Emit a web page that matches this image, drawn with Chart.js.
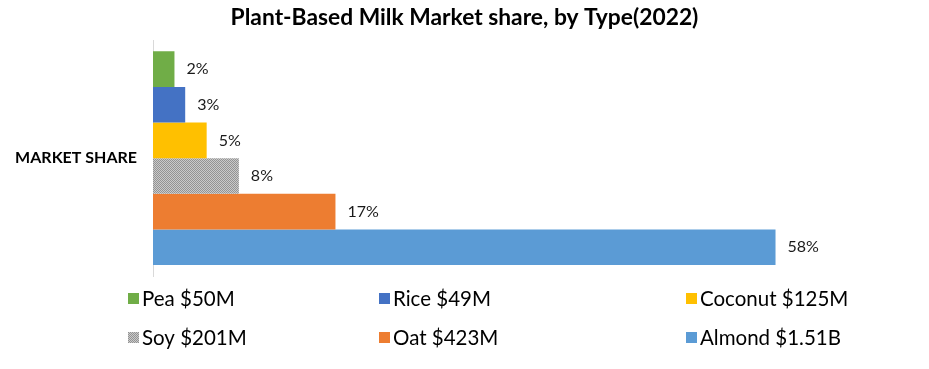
<!DOCTYPE html>
<html>
<head>
<meta charset="utf-8">
<script src="https://cdn.jsdelivr.net/npm/chart.js@4.4.1/dist/chart.umd.min.js"></script>
<style>
  html, body { margin: 0; padding: 0; background: #fff; }
  #wrap { width: 929px; height: 369px; position: relative; }
</style>
</head>
<body>
<div id="wrap"><canvas id="market-share-chart" width="929" height="369"></canvas></div>
<script>
// Datos
const titleText = "Plant-Based Milk Market share, by Type(2022)";
const categories = ["MARKET SHARE"];
const milkTypes = ["Pea $50M", "Rice $49M", "Coconut $125M", "Soy $201M", "Oat $423M", "Almond $1.51B"];
const shareValues = [2, 3, 5, 8, 17, 58];
const shareLabels = ["2%", "3%", "5%", "8%", "17%", "58%"];
const seriesColors = ["#70ad47", "#4472c4", "#ffc000", "#a5a5a5", "#ed7d31", "#5b9bd5"];

const FONT = "Lato, 'Open Sans', sans-serif";
const canvas = document.getElementById("market-share-chart");
const ctx = canvas.getContext("2d");

/**
 * Trama punteada gris para la serie Soy
 */
const crearTrama = () => {
  const c = document.createElement("canvas");
  c.width = 2;
  c.height = 2;
  const g = c.getContext("2d");
  g.fillStyle = "#cacaca";
  g.fillRect(0, 0, 2, 2);
  g.fillStyle = "#939393";
  g.fillRect(0, 0, 1, 1);
  g.fillRect(1, 1, 1, 1);
  return ctx.createPattern(c, "repeat");
};

const fills = seriesColors.map((c, i) => (milkTypes[i].startsWith("Soy") ? crearTrama() : c));

// Etiquetas de porcentaje al final de cada barra
const valueLabels = {
  id: "valueLabels",
  afterDatasetsDraw(chart) {
    const { ctx } = chart;
    ctx.save();
    ctx.font = `16px ${FONT}`;
    ctx.fillStyle = "#1a1a1a";
    ctx.textBaseline = "middle";
    chart.data.datasets.forEach((ds, i) => {
      const el = chart.getDatasetMeta(i).data[0];
      ctx.fillText(shareLabels[i], el.x + 12, el.y);
    });
    ctx.restore();
  },
};

// Leyenda en tres columnas debajo del gráfico
const gridLegend = {
  id: "gridLegend",
  afterDraw(chart) {
    const { ctx } = chart;
    const cols = [128, 379, 686];
    const rows = [298, 337];
    ctx.save();
    ctx.font = `20.5px ${FONT}`;
    ctx.textBaseline = "middle";
    chart.data.datasets.forEach((ds, i) => {
      const x = cols[i % 3];
      const y = rows[Math.floor(i / 3)];
      ctx.fillStyle = ds.backgroundColor;
      ctx.fillRect(x, y - 5, 11, 11);
      ctx.fillStyle = "#000";
      ctx.fillText(ds.label, x + 14, y + 1);
    });
    ctx.restore();
  },
};

new Chart(ctx, {
  type: "bar",
  data: {
    labels: categories,
    datasets: milkTypes.map((name, i) => ({
      label: name,
      data: [shareValues[i]],
      backgroundColor: fills[i],
      borderWidth: 0,
      barPercentage: 1,
      categoryPercentage: 0.907,
    })),
  },
  options: {
    indexAxis: "y",
    responsive: false,
    devicePixelRatio: 1,
    animation: false,
    layout: { padding: { left: 0, right: 0, top: 0, bottom: 93 } },
    plugins: {
      legend: { display: false },
      tooltip: { enabled: false },
      title: {
        display: true,
        text: titleText,
        color: "#000",
        font: { family: FONT, size: 22.8, weight: "bold" },
        padding: { top: 4, bottom: 9 },
      },
    },
    scales: {
      x: { display: false, min: 0, max: 72.3 },
      y: {
        grid: { display: false, drawTicks: false },
        border: { display: true, color: "#d9d9d9", width: 1 },
        ticks: {
          color: "#000",
          padding: 16,
          font: { family: FONT, size: 16, weight: "bold" },
        },
        afterFit: (scale) => {
          scale.width = 153;
        },
      },
    },
  },
  plugins: [valueLabels, gridLegend],
});
</script>
</body>
</html>
